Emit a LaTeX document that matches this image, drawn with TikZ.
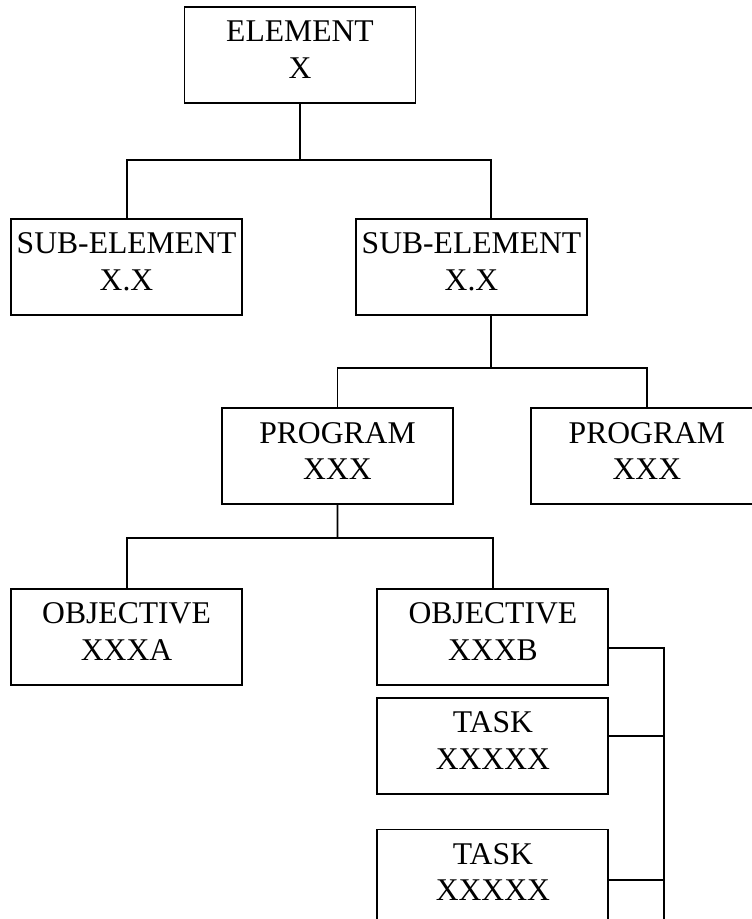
\documentclass[tikz,border=0pt]{standalone}
\usepackage{fontspec}
\setmainfont{Liberation Serif}
\usepackage{tikz}
\usetikzlibrary{positioning}

\begin{document}
\begin{tikzpicture}
    [
    x = 0.02cm, y = -0.02cm,
    box/.style = {draw, rectangle, line width=1.1pt, minimum width=4.62cm, minimum height=1.92cm, inner sep=2pt, align=center, font=\fontsize{18pt}{20.8pt}\selectfont, execute at end node=\strut},
    link/.style = {line width=1.1pt}
    ]
    \useasboundingbox (0,0) rectangle (751,919);

% Nodes
    \node[box] (elem) at (300,55) {ELEMENT\\X};
    \node[box, below=2.28cm of elem, xshift=-3.47cm] (suba) {SUB-ELEMENT\\X.X};
    \node[box, below=2.28cm of elem, xshift=3.43cm] (subb) {SUB-ELEMENT\\X.X};
    \node[box, below=1.83cm of subb, xshift=-2.68cm] (proga) {PROGRAM\\XXX};
    \node[box, right=1.53cm of proga] (progb) {PROGRAM\\XXX};
    \node[box, below=1.66cm of proga, xshift=-4.22cm] (obja) {OBJECTIVE\\XXXA};
    \node[box, right=2.67cm of obja] (objb) {OBJECTIVE\\XXXB};
    \node[box, below=0.22cm of objb] (taska) {TASK\\XXXXX};
    \node[box, below=0.67cm of taska] (taskb) {TASK\\XXXXX};

% Branch points
    \coordinate (bara) at (300,160);
    \coordinate (barb) at (491,368);
    \coordinate (barc) at (337.5,538);
    \coordinate (railend) at (664,925);

% Connectors
    \draw[link] (elem) -- (bara);
    \draw[link] (suba.north) |- (bara);
    \draw[link] ([xshift=0.39cm]subb.north) |- (bara);
    \draw[link] ([xshift=0.39cm]subb.south) -- (barb);
    \draw[link] (proga.north) |- (barb);
    \draw[link] (progb.north) |- (barb);
    \draw[link] (proga) -- (barc);
    \draw[link] (obja.north) |- (barc);
    \draw[link] (objb.north) |- (barc);
    \draw[link] ([yshift=-0.21cm]objb.east) -| (railend);
    \draw[link] ([yshift=0.21cm]taska.east) -- ([yshift=0.21cm]taska.east -| railend);
    \draw[link] ([yshift=-0.05cm]taskb.east) -- ([yshift=-0.05cm]taskb.east -| railend);

\end{tikzpicture}
\end{document}
